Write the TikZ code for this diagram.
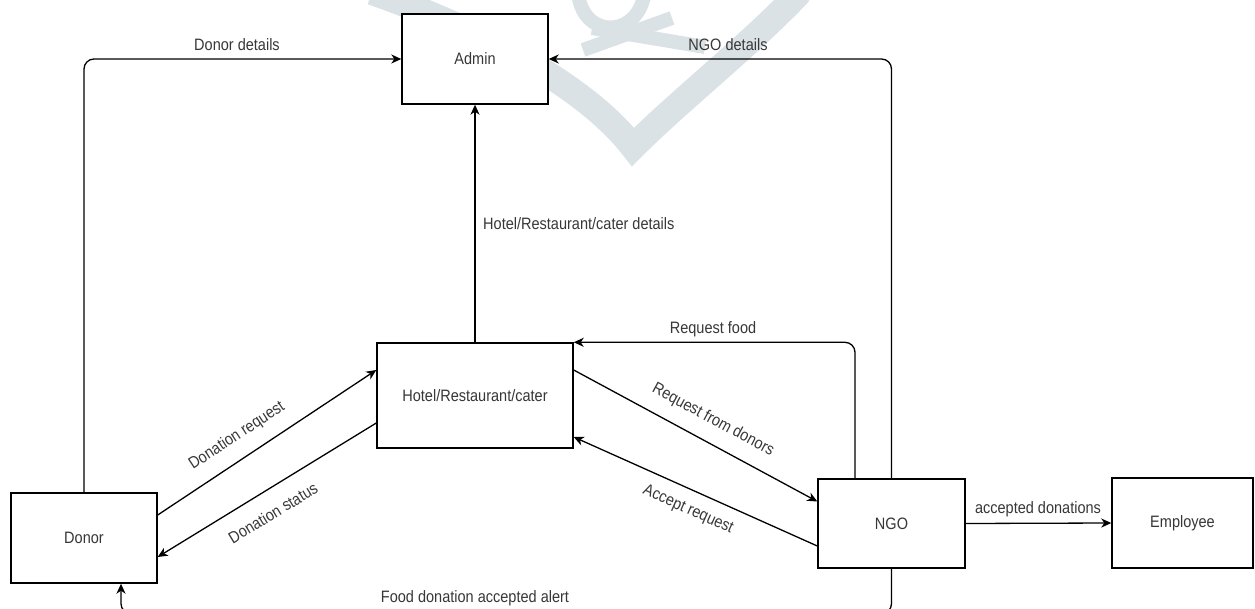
\documentclass[tikz,border=0pt]{standalone}
\usepackage{fontspec}
\setmainfont{Liberation Sans}[FakeStretch=0.88]
\usetikzlibrary{arrows.meta,calc}
\definecolor{ink}{RGB}{55,55,55}
\definecolor{mark}{RGB}{219,226,230}
\begin{document}
\begin{tikzpicture}[x=1pt,y=-1pt,
  box/.style={draw=black,line width=1.4pt,fill=white,text=ink,
    font=\fontsize{16.5}{18}\selectfont,inner sep=0pt},
  flow/.style={draw=black,line width=1.3pt,
    -{Stealth[length=10pt,width=9pt,inset=3pt]}},
  lbl/.style={text=ink,font=\fontsize{16.5}{18}\selectfont,inner sep=0pt},
  wm/.style={draw=mark,line width=26pt,line join=miter},
  wmthin/.style={draw=mark,line width=14pt}]
\useasboundingbox (0,0) rectangle (1255,609);

% faint logo in the background
\draw[wm] (372,-8) .. controls (480,30) and (585,85) .. (633,147)
          .. controls (680,100) and (750,45) .. (800,-8);
\draw[wmthin] (578,-10) .. controls (580,40) and (640,40) .. (645,-10);
\draw[wmthin] (583,50) -- (672,18);
\draw[wmthin] (592,28) -- (705,47);

% processes and entities
\node[box, minimum width=146pt, minimum height=90pt]  (admin) at (475,59)     {Admin};
\node[box, minimum width=196pt, minimum height=105pt] (hotel) at (475,395.5)  {Hotel/Restaurant/cater};
\node[box, minimum width=146pt, minimum height=90pt]  (donor) at (84,538)     {Donor};
\node[box, minimum width=147pt, minimum height=89pt]  (ngo)   at (891.5,523.5) {NGO};
\node[box, minimum width=141pt, minimum height=90pt]  (emp)   at (1182.5,523) {Employee};

% data flows
\draw[flow, rounded corners=10pt] (donor.north) |- (admin.west);
\draw[flow, rounded corners=10pt] (ngo.north) |- (admin.east);
\draw[flow] (hotel.north) -- (admin.south);
\draw[flow, rounded corners=10pt] ([xshift=-36.5pt]ngo.north) |- (hotel.north east);
\draw[flow] ([yshift=25.5pt]hotel.east) -- ([yshift=22pt]ngo.west);
\draw[flow] ([yshift=-22.5pt]ngo.west) -- ([yshift=-41.5pt]hotel.east);
\draw[flow] ([yshift=23pt]donor.east) -- ([yshift=25.5pt]hotel.west);
\draw[flow] ([yshift=-27.5pt]hotel.west) -- ([yshift=-19pt]donor.east);
\draw[flow] (ngo.east) -- (emp.west);
\draw[flow, rounded corners=10pt] (ngo.south) -- ++(0,45) -| ([xshift=37pt]donor.south);

% flow labels
\node[lbl] at (237,45) {Donor details};
\node[lbl] at (728,45) {NGO details};
\node[lbl, anchor=west] at (483,224) {Hotel/Restaurant/cater details};
\node[lbl] at (713,329) {Request food};
\node[lbl, rotate=-28.3] at (713,420) {Request from donors};
\node[lbl, rotate=-24] at (688,510) {Accept request};
\node[lbl, rotate=33.4] at (237,436) {Donation request};
\node[lbl, rotate=31.3] at (273,513) {Donation status};
\node[lbl] at (1038,509) {accepted donations};
\node[lbl] at (475,598) {Food donation accepted alert};
\end{tikzpicture}
\end{document}
